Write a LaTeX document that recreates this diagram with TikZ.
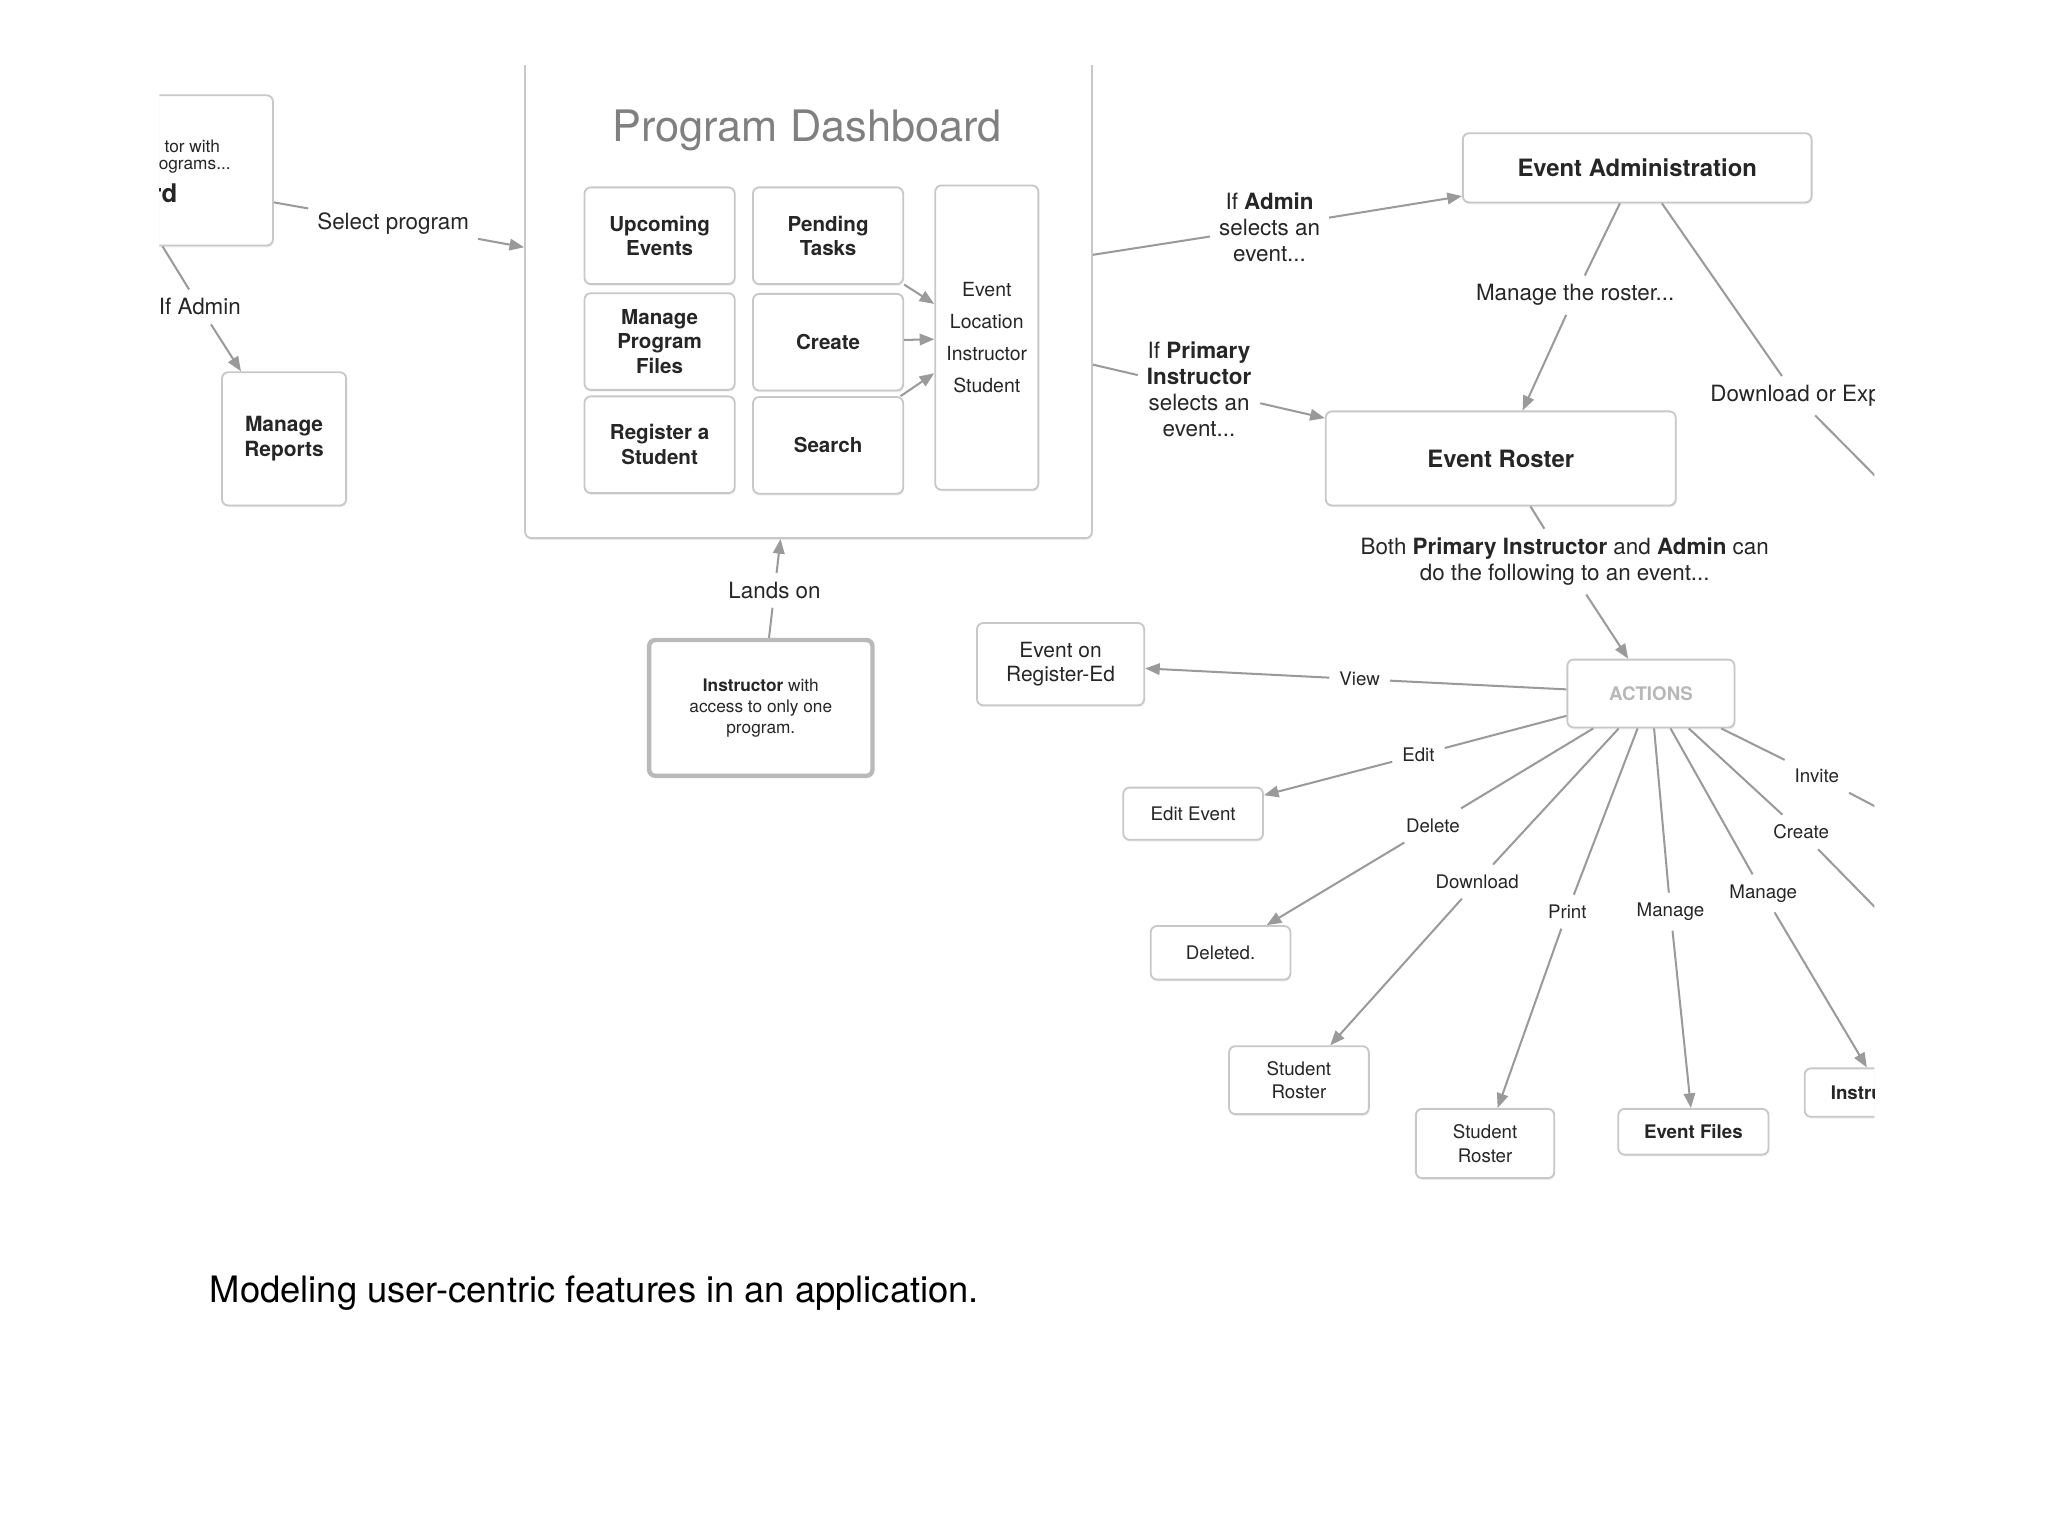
\documentclass[tikz,border=0pt]{standalone}
\usepackage{fontspec}
\setmainfont{TeX Gyre Heros}
\usetikzlibrary{arrows.meta,shadows}

\definecolor{boxgray}{HTML}{C8C8C8}
\definecolor{linegray}{HTML}{9A9A9A}
\definecolor{textdark}{HTML}{262626}
\definecolor{titlegray}{HTML}{808080}
\definecolor{actgray}{HTML}{B8B8B8}

\def\fsz#1#2{\fontsize{#1pt}{#2pt}\selectfont}

\tikzset{
  box/.style={draw=boxgray, line width=0.5pt, rounded corners=0.6mm, fill=white, text=textdark, align=center, inner sep=0.5mm,
    drop shadow={shadow xshift=0.2pt, shadow yshift=-0.5pt, opacity=0.12}},
  subbox/.style={box, minimum width=14.375mm, minimum height=9.25mm, font=\fsz{5.6}{6.7}\bfseries},
  leaf/.style={box, font=\fsz{5.1}{6.4}},
  lbl/.style={text=textdark, align=center, inner sep=0.8mm, font=\fsz{6.1}{7.1}},
  small/.style={text=textdark, inner sep=0.9mm, font=\fsz{5.1}{6.2}},
  frag/.style={anchor=west, inner sep=0, text=textdark},
  conn/.style={draw=linegray, line width=0.55pt},
  arr/.style={conn, -{Triangle[length=1.4mm, width=1.1mm]}},
}

\begin{document}
\begin{tikzpicture}[x=0.125mm, y=-0.125mm]
		%%%%% START %%%%%
		
		\fill[white] (0,0) rectangle (1568,1176);
		\useasboundingbox (0,0) rectangle (1568,1176);
		
		\begin{scope}
		\clip (122,50) rectangle (1435,950);
		
		% left side
		\node[box, minimum width=21.125mm, minimum height=14.375mm] (multi) at (124.5,130.5) {};
		\node[frag, font=\fsz{4.7}{5.6}] (multiA) at (125.5,112) {tor with};
		\node[frag, font=\fsz{4.7}{5.6}] (multiB) at (121,128) {ograms...};
		\node[frag, font=\fsz{7}{8}\bfseries] (multiC) at (115.5,148) {rd};
		
		\node[box, minimum width=11.875mm, minimum height=12.75mm, font=\fsz{5.7}{6.7}\bfseries] (reports) at (217.5,336) {Manage\\Reports};
		
		\node[lbl] (selprog) at (301,171) {Select program};
		\node[lbl] (ifadmin) at (153,235) {If Admin};
		
		% dashboard
		\node[box, minimum width=54.25mm, minimum height=45.75mm] (dash) at (619,229) {};
		\node[text=titlegray, font=\fsz{11.8}{14}] (dashtitle) at (618,100) {Program Dashboard};
		
		\node[subbox] (upcoming) at (505,180.5) {Upcoming\\Events};
		\node[subbox] (pending) at (634,180.5) {Pending\\Tasks};
		\node[subbox] (progfiles) at (505,261.5) {Manage\\Program\\Files};
		\node[subbox] (create) at (634,262) {Create};
		\node[subbox] (register) at (505,340.5) {Register a\\Student};
		\node[subbox] (search) at (634,341) {Search};
		\node[box, minimum width=9.875mm, minimum height=29.125mm, font=\fsz{5.3}{8.75}] (col) at (755.5,258.5) {Event\\Location\\Instructor\\Student};
		
		\draw[arr] (pending) -- (col);
		\draw[arr] (create) -- (col);
		\draw[arr] (search) -- (col);
		
		\draw[conn] ([yshift=-3.06mm]multi.east) -- (selprog);
		\draw[arr] (selprog) -- (dash);
		\draw[conn] (multi.south) -- (ifadmin);
		\draw[arr] (ifadmin) -- (reports);
		
		% lands on
		\node[box, line width=1.2pt, draw=gray!55, minimum width=21.375mm, minimum height=13mm, font=\fsz{4.7}{5.7}] (single) at (582.5,542) {\textbf{Instructor} with\\access to only one\\program.};
		\node[lbl] (lands) at (593,452) {Lands on};
		\draw[conn] (single) -- (lands);
		\draw[arr] (lands) -- (dash);
		
		% event administration and roster
		\node[box, minimum width=33.375mm, minimum height=6.625mm, font=\fsz{6.5}{7.5}\bfseries] (admin) at (1253.5,128.5) {Event Administration};
		\node[box, minimum width=33.5mm, minimum height=9mm, font=\fsz{6.5}{7.5}\bfseries] (roster) at (1149,351) {Event Roster};
		\node[lbl] (adminsel) at (972,174) {If \textbf{Admin}\\selects an\\event...};
		\node[lbl] (primsel) at (918,298) {If \textbf{Primary}\\\textbf{Instructor}\\selects an\\event...};
		\node[lbl] (manroster) at (1206,226) {Manage the roster...};
		\node[lbl, anchor=west] (download) at (1302.6,303) {Download or Exp};
		\coordinate (downend) at (1474,403);
		\node[lbl] (both) at (1198,430) {Both \textbf{Primary Instructor} and \textbf{Admin} can\\do the following to an event...};
		
		\draw[conn] (dash) -- (adminsel);
		\draw[arr] (adminsel) -- (admin);
		\draw[conn] (dash) -- (primsel);
		\draw[arr] (primsel) -- (roster);
		\draw[conn] (admin) -- (manroster);
		\draw[arr] (manroster) -- (roster);
		\draw[conn] (admin) -- (download);
		\draw[conn] (download) -- (downend);
		
		% actions
		\node[box, minimum width=16mm, minimum height=6.5mm, text=actgray, font=\fsz{5.1}{6}\bfseries] (act) at (1264,531) {ACTIONS};
		\draw[conn] (roster) -- (both);
		\draw[arr] (both) -- (act);
		
		\node[leaf, minimum width=16mm, minimum height=7.875mm, font=\fsz{5.7}{6.4}] (regged) at (812,508.5) {Event on\\Register-Ed};
		\node[leaf, minimum width=13.375mm, minimum height=5mm] (editev) at (913.5,623) {Edit Event};
		\node[leaf, minimum width=13.375mm, minimum height=5.125mm] (deleted) at (934.5,729.5) {Deleted.};
		\node[leaf, minimum width=13.375mm, minimum height=6.5mm] (rostA) at (994.5,827) {Student\\Roster};
		\node[leaf, minimum width=13.25mm, minimum height=6.625mm] (rostB) at (1137,875.5) {Student\\Roster};
		\node[leaf, minimum width=14.375mm, minimum height=4.375mm, font=\fsz{5.1}{6.4}\bfseries] (evfiles) at (1296.5,866.5) {Event Files};
		\node[leaf, anchor=west, minimum height=4.625mm, text width=9.75mm, align=left, inner xsep=2.5mm, font=\fsz{5.1}{6.4}\bfseries] (instr) at (1381,836.5) {Instru};
		
		\node[small] (view) at (1041,520) {View};
		\node[small] (edit) at (1086,578) {Edit};
		\node[small] (delete) at (1097,632) {Delete};
		\node[small] (down) at (1131,675) {Download};
		\node[small] (print) at (1200,698) {Print};
		\node[small] (mfiles) at (1279,698) {Manage};
		\node[small] (minstr) at (1350,684) {Manage};
		\node[small] (mkcreate) at (1379,637) {Create};
		\node[small] (invite) at (1391,594) {Invite};
		\coordinate (createend) at (1480,740);
		\coordinate (inviteend) at (1490,646);
		
		\foreach \lab/\tgt in {view/regged, edit/editev, delete/deleted, down/rostA, print/rostB, mfiles/evfiles, minstr/instr}{
			\draw[conn] (act) -- (\lab);
			\draw[arr] (\lab) -- (\tgt);
		}
		\foreach \lab/\tgt in {mkcreate/createend, invite/inviteend}{
			\draw[conn] (act) -- (\lab);
			\draw[conn] (\lab) -- (\tgt);
		}
		\end{scope}
		
		\node[anchor=west, inner sep=0, font=\fsz{9.9}{12}] (caption) at (160,990) {Modeling user-centric features in an application.};
		
		%%%%% END %%%%%
\end{tikzpicture}
\end{document}
